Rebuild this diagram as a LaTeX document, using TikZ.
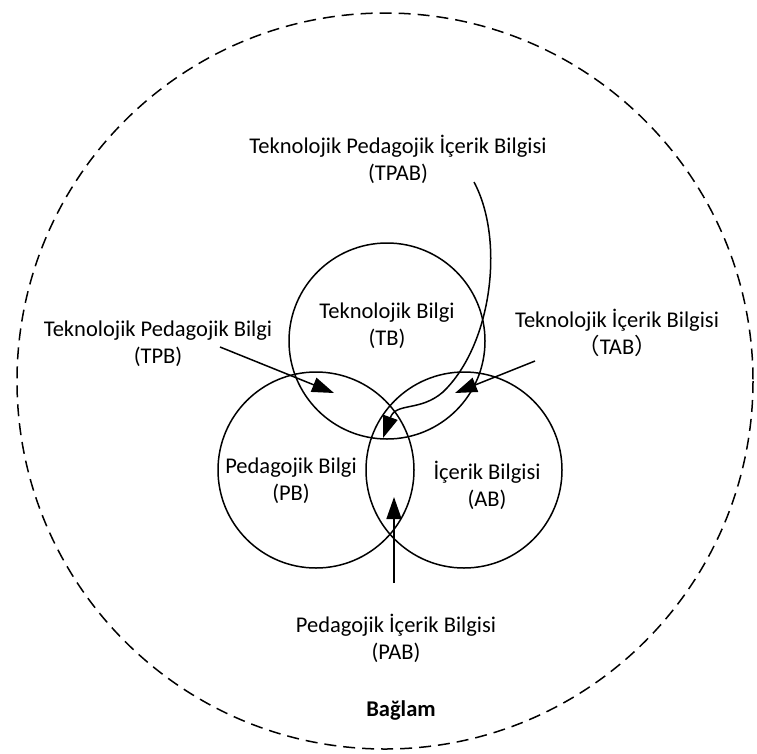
\documentclass[tikz,border=0pt]{standalone}
\usepackage{fontspec}
\setmainfont{Carlito}
\newfontfamily\cjk{Noto Sans CJK SC}
\usetikzlibrary{arrows.meta}
\begin{document}
\begin{tikzpicture}[x=1pt,y=-1pt,
  circ/.style={draw,line width=1.5pt},
  lbl/.style={align=center,font=\fontsize{22.5}{27}\selectfont,inner sep=0pt},
  arr/.style={line width=1.5pt,-{Triangle[length=22pt,width=15pt]}}]
\useasboundingbox (0,0) rectangle (757,753);
% context
\draw[line width=1.5pt,dash pattern=on 12pt off 7pt] (385,381) circle[radius=368];
% knowledge circles
\node[circ,circle,minimum size=196pt,inner sep=0pt] (TBc) at (387,341) {};
\node[circ,circle,minimum size=196pt,inner sep=0pt] (PBc) at (316,470) {};
\node[circ,circle,minimum size=196pt,inner sep=0pt] (ABc) at (464,470) {};
% labels
\node[lbl] (tpab) at (398,159) {Teknolojik Pedagojik İçerik Bilgisi\\(TPAB)};
\node[lbl] (tb) at (387,326) {Teknolojik Bilgi\\(TB)};
\node[lbl] (tpb) at (158,344) {Teknolojik Pedagojik Bilgi\\(TPB)};
\node[lbl] (tab) at (617,333) {Teknolojik İçerik Bilgisi\\{\cjk（}TAB{\cjk）}};
\node[lbl] (pb) at (291,481) {Pedagojik Bilgi\\(PB)};
\node[lbl] (ab) at (487,485) {İçerik Bilgisi\\(AB)};
\node[lbl] (pab) at (396,638) {Pedagojik İçerik Bilgisi\\(PAB)};
\node[lbl,font=\fontsize{22.5}{27}\selectfont\bfseries] (ctx) at (401,710) {Bağlam};
% arrow end points
\coordinate (tpbS) at (220,347);
\coordinate (tpbE) at (334,393);
\coordinate (tabS) at (535,361);
\coordinate (tabE) at (455,393);
\coordinate (pabS) at (394,583);
\coordinate (pabE) at (394,497);
\coordinate (tpabS) at (474,182);
\coordinate (tpabE) at (383,438);
\draw[arr] (tpbS) -- (tpbE);
\draw[arr] (tabS) -- (tabE);
\draw[arr] (pabS) -- (pabE);
\draw[arr] (tpabS) .. controls (505,240) and (492,345) .. (443,392)
  .. controls (420,412) and (396,402) .. (tpabE);
\end{tikzpicture}
\end{document}
